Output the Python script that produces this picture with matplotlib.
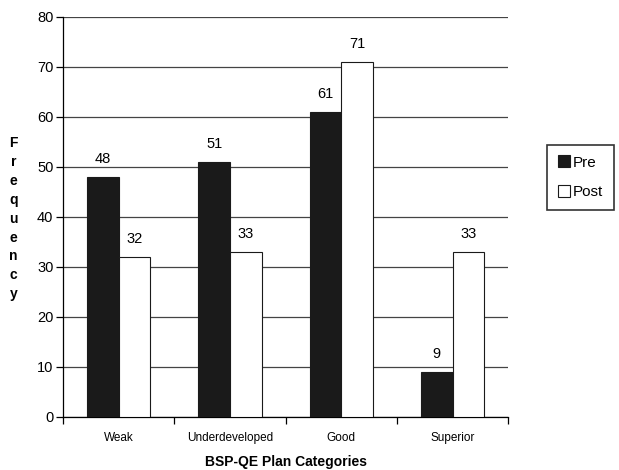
import numpy as np
import matplotlib
matplotlib.use("Agg")
import matplotlib.pyplot as plt

plt.rcParams["font.family"] = ["Liberation Sans", "DejaVu Sans"]

categories = ["Weak", "Underdeveloped", "Good", "Superior"]
pre_vals = [48, 51, 61, 9]
post_vals = [32, 33, 71, 33]

fig = plt.figure(figsize=(6.19, 4.70), dpi=100)
ax = fig.add_axes([0.102, 0.113, 0.719, 0.851])

x = np.arange(len(categories))
w = 0.285
pre_bars = ax.bar(x - w / 2, pre_vals, w, color="#1a1a1a", edgecolor="#1a1a1a", linewidth=0.8, label="Pre", zorder=3)
post_bars = ax.bar(x + w / 2, post_vals, w, color="white", edgecolor="#1a1a1a", linewidth=0.8, label="Post", zorder=3)

for bars, vals in [(pre_bars, pre_vals), (post_bars, post_vals)]:
    for b, v in zip(bars, vals):
        ax.text(b.get_x() + b.get_width() / 2, v + 2.2, str(v), ha="center", va="bottom", fontsize=10.5)

ax.set_xlim(-0.5, len(categories) - 0.5)
ax.set_ylim(0, 80)
ax.set_yticks(range(0, 81, 10))
ax.yaxis.grid(True, color="#444444", linewidth=0.9, zorder=0)
ax.set_axisbelow(True)
ax.tick_params(axis="y", labelsize=10.5, length=5, width=0.9, pad=2)

# category labels centred, tick marks on the category boundaries
ax.set_xticks(x)
ax.set_xticklabels(categories, fontsize=8.5)
ax.tick_params(axis="x", which="major", length=0, pad=11)
ax.set_xticks(np.arange(-0.5, len(categories)), minor=True)
ax.tick_params(axis="x", which="minor", length=5, width=0.9, direction="out")

for side in ["top", "right"]:
    ax.spines[side].set_visible(False)
ax.spines["left"].set_linewidth(0.9)
ax.spines["bottom"].set_linewidth(0.9)

ax.set_xlabel("BSP-QE Plan Categories", fontsize=10, fontweight="bold", labelpad=8)
fig.text(0.022, 0.535, "\n".join("Frequency"), ha="center", va="center",
         fontsize=10, fontweight="bold", linespacing=1.45)

leg = fig.legend(handles=[pre_bars, post_bars], loc="center left",
                 bbox_to_anchor=(0.884, 0.623), fontsize=11, frameon=True,
                 fancybox=False, edgecolor="black", handlelength=0.8,
                 handleheight=0.8, handletextpad=0.2, labelspacing=1.0,
                 borderpad=0.7, borderaxespad=0)
leg.get_frame().set_linewidth(1.2)

fig.savefig("out.png", dpi=100)
